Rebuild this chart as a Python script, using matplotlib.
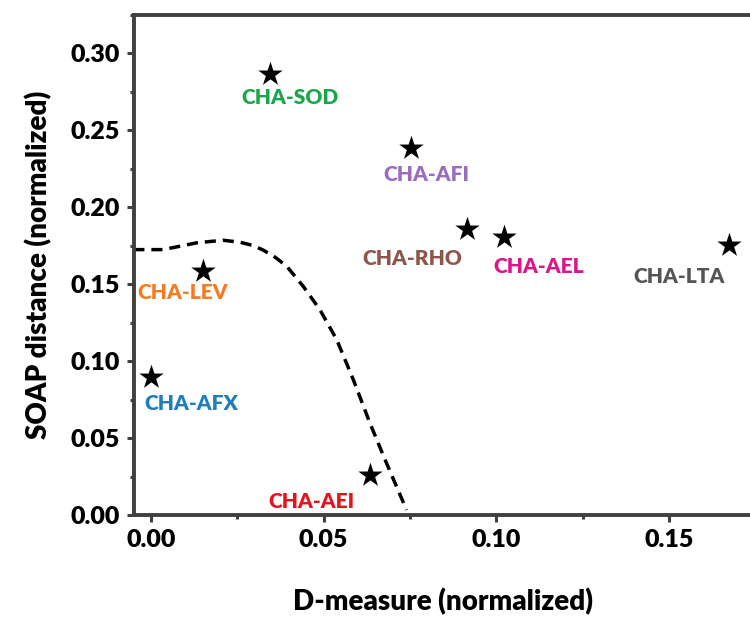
import matplotlib
matplotlib.use("Agg")
import matplotlib.pyplot as plt
from matplotlib.ticker import MultipleLocator

plt.rcParams['font.family'] = ['Lato', 'DejaVu Sans']
W = "heavy"
plt.rcParams['font.weight'] = W

# Data
names = ["CHA-SOD", "CHA-LEV", "CHA-AFX", "CHA-AEI", "CHA-AFI", "CHA-RHO", "CHA-AEL", "CHA-LTA"]
d_measure = [0.0345, 0.0150, 0.0000, 0.0634, 0.0753, 0.0915, 0.1022, 0.1673]
soap_dist = [0.2865, 0.1589, 0.0898, 0.0260, 0.2383, 0.1860, 0.1810, 0.1758]
label_x = [0.0402, 0.0093, 0.0116, 0.0466, 0.0796, 0.0756, 0.1123, 0.1529]
label_y = [0.2715, 0.1445, 0.0723, 0.0085, 0.2214, 0.1667, 0.1615, 0.1550]
label_colors = ["#1aa64a", "#f47b20", "#1f7fb8", "#e3141c", "#9b6bbf", "#8c564b", "#d9178a", "#555555"]

# Dashed boundary curve
curve_x = [-0.0051, 0.0036, 0.0132, 0.0209, 0.0258, 0.0295, 0.0325, 0.0360, 0.0393, 0.0441,
           0.0489, 0.0538, 0.0586, 0.0634, 0.0682, 0.0740]
curve_y = [0.1725, 0.1725, 0.1769, 0.1786, 0.1773, 0.1752, 0.1722, 0.1675, 0.1617, 0.1486,
           0.1335, 0.1139, 0.0879, 0.0597, 0.0337, 0.0033]

fig = plt.figure(figsize=(7.5, 6.17), dpi=100)
ax = fig.add_axes([134/750, 1 - 515/617, (752-134)/750, (515-15)/617])

ax.plot(curve_x, curve_y, color="black", lw=2.5, linestyle=(0, (3.2, 2.0)),
        solid_joinstyle="round", zorder=2)
ax.scatter(d_measure, soap_dist, marker="*", s=340, color="black", zorder=3, linewidths=0)
for n, lx, ly, c in zip(names, label_x, label_y, label_colors):
    ax.text(lx, ly, n, color=c, fontsize=15, fontweight=W, ha="center", va="center")

ax.set_xlim(-0.0049, 0.1740)
ax.set_ylim(0, 0.325)
ax.xaxis.set_major_locator(MultipleLocator(0.05))
ax.xaxis.set_minor_locator(MultipleLocator(0.025))
ax.yaxis.set_major_locator(MultipleLocator(0.05))
ax.yaxis.set_minor_locator(MultipleLocator(0.025))
ax.xaxis.set_major_formatter(plt.FormatStrFormatter('%.2f'))
ax.yaxis.set_major_formatter(plt.FormatStrFormatter('%.2f'))

spc = "#404040"
for s in ["left", "bottom", "top"]:
    ax.spines[s].set_color(spc)
    ax.spines[s].set_linewidth(2.8)
ax.spines["right"].set_visible(False)
ax.tick_params(which="major", direction="out", length=5, width=2.2, color=spc, labelsize=18, pad=5)
ax.tick_params(which="minor", direction="out", length=3, width=2.2, color=spc)
ax.tick_params(top=False, right=False, which="both")
for lbl in ax.get_xticklabels() + ax.get_yticklabels():
    lbl.set_fontweight(W)

ax.set_xlabel("D-measure (normalized)", fontsize=20, fontweight=W, labelpad=27)
ax.set_ylabel("SOAP distance (normalized)", fontsize=20, fontweight=W, labelpad=13)

fig.savefig("out.png", dpi=100)
